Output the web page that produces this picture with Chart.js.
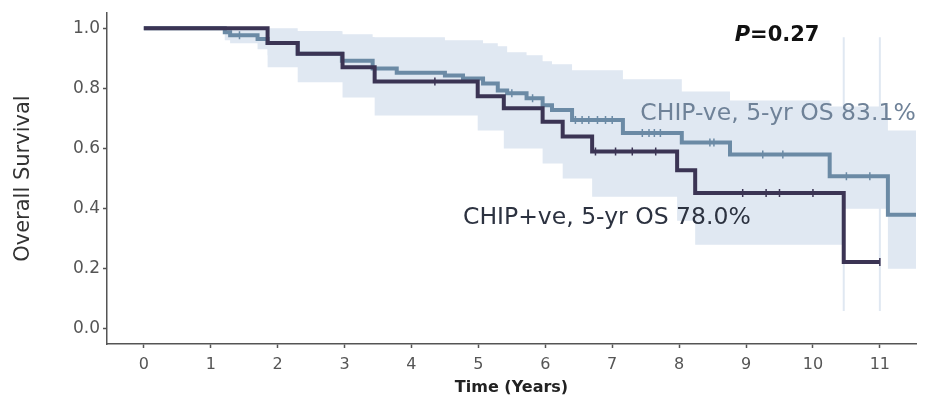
<!DOCTYPE html>
<html>
<head>
<meta charset="utf-8">
<script src="https://cdn.jsdelivr.net/npm/chart.js@4.4.0/dist/chart.umd.min.js"></script>
<style>
  html, body { margin: 0; padding: 0; background: #fff; }
  #wrap { width: 935px; height: 398px; }
</style>
</head>
<body>
<div id="wrap"><canvas id="chart" width="935" height="398"></canvas></div>
<script>
// Kaplan-Meier steps, CHIP+ve (dark)
const posTimes = [0, 1.85, 2.3, 2.97, 3.45, 4.99, 5.38, 5.96, 6.26, 6.7, 7.97, 8.24, 10.46, 11.0]
const posSurv  = [1, 0.951, 0.915, 0.87, 0.823, 0.774, 0.734, 0.689, 0.64, 0.59, 0.528, 0.452, 0.223, 0.223]
// CHIP-ve (steel blue)
const negTimes = [0, 1.21, 1.29, 1.7, 1.85, 2.3, 2.96, 3.42, 3.78, 4.5, 4.77, 5.07, 5.29, 5.43, 5.72, 5.96, 6.1, 6.4, 7.16, 8.04, 8.76, 10.25, 11.12, 11.54]
const negSurv  = [1, 0.987, 0.977, 0.964, 0.951, 0.915, 0.892, 0.866, 0.852, 0.843, 0.833, 0.816, 0.793, 0.784, 0.767, 0.744, 0.728, 0.695, 0.652, 0.62, 0.58, 0.508, 0.38, 0.38]

// censor ticks
const posCensT = [4.35, 6.75, 7.05, 7.3, 7.65, 8.95, 9.3, 9.5, 10.0, 11.0]
const posCensS = [0.823, 0.59, 0.59, 0.59, 0.59, 0.452, 0.452, 0.452, 0.452, 0.223]
const negCensT = [1.43, 5.5, 5.81, 6.45, 6.55, 6.65, 6.78, 6.9, 7.0, 7.45, 7.55, 7.63, 7.72, 8.46, 8.52, 9.25, 9.55, 10.5, 10.85]
const negCensS = [0.977, 0.784, 0.767, 0.695, 0.695, 0.695, 0.695, 0.695, 0.695, 0.652, 0.652, 0.652, 0.652, 0.62, 0.62, 0.58, 0.58, 0.508, 0.508]

// confidence bands
const negUpper = [1, 1, 1, 1, 0.99, 0.99, 0.98, 0.97, 0.97, 0.96, 0.96, 0.95, 0.94, 0.92, 0.91, 0.89, 0.88, 0.86, 0.83, 0.79, 0.76, 0.74, 0.66, 0.66]
const negLower = [1, 0.96, 0.95, 0.93, 0.91, 0.87, 0.84, 0.82, 0.8, 0.79, 0.78, 0.76, 0.73, 0.72, 0.7, 0.67, 0.65, 0.62, 0.57, 0.53, 0.48, 0.4, 0.2, 0.2]
const posUpper = [1, 1, 0.99, 0.97, 0.95, 0.92, 0.89, 0.86, 0.83, 0.79, 0.74, 0.68, 0.223, 0.223]
const posLower = [1, 0.87, 0.82, 0.77, 0.71, 0.66, 0.6, 0.55, 0.5, 0.44, 0.36, 0.28, 0.223, 0.223]
const edgeTimes = [10.46, 10.46, null, 11.0, 11.0]
const edgeVals  = [0.06, 0.97, null, 0.06, 0.97]

const xTicks = [0, 1, 2, 3, 4, 5, 6, 7, 8, 9, 10, 11]
const yTicks = [0, 0.2, 0.4, 0.6, 0.8, 1.0]

const darkCol = '#3b3454'
const blueCol = '#6b8aa5'
const bandCol = '#e0e8f2'
const font = 'DejaVu Sans'

function pts(xs, ys) {
    return xs.map((x, i) => x === null ? { x: NaN, y: null } : { x: x, y: ys[i] })
}

function stepLine(xs, ys, color, order) {
    return { data: pts(xs, ys), showLine: true, stepped: true, borderColor: color, borderWidth: 4, pointRadius: 0, fill: false, order: order }
}

function censors(xs, ys, color, order) {
    return { data: pts(xs, ys), showLine: false, pointStyle: 'line', rotation: 90, pointRadius: 4, borderColor: color, borderWidth: 1.5, order: order }
}

function band(xs, ys, fill) {
    return { data: pts(xs, ys), showLine: true, stepped: true, borderWidth: 0, borderColor: 'rgba(0,0,0,0)', backgroundColor: bandCol, pointRadius: 0, fill: fill, order: 10 }
}

const labelPlugin = {
    id: 'labels',
    afterDatasetsDraw(chart) {
        const ctx = chart.ctx
        const xs = chart.scales.x, ys = chart.scales.y
        ctx.save()
        ctx.textBaseline = 'middle'
        ctx.textAlign = 'left'
        ctx.font = '23.5px "' + font + '"'
        ctx.fillStyle = '#6f8298'
        ctx.fillText('CHIP-ve, 5-yr OS 83.1%', xs.getPixelForValue(7.42), ys.getPixelForValue(0.716))
        ctx.fillStyle = '#2c3240'
        ctx.fillText('CHIP+ve, 5-yr OS 78.0%', xs.getPixelForValue(4.77), ys.getPixelForValue(0.37))
        // P value, P in italic
        let px = xs.getPixelForValue(8.83), py = ys.getPixelForValue(0.975)
        ctx.fillStyle = '#111'
        ctx.font = 'italic bold 21px "' + font + '"'
        ctx.fillText('P', px, py)
        px += ctx.measureText('P').width
        ctx.font = 'bold 21px "' + font + '"'
        ctx.fillText('=0.27', px, py)
        ctx.restore()
    }
}

new Chart(document.getElementById('chart'), {
    type: 'scatter',
    data: {
        datasets: [
            stepLine(posTimes, posSurv, darkCol, 0),
            stepLine(negTimes, negSurv, blueCol, 1),
            censors(posCensT, posCensS, darkCol, 0),
            censors(negCensT, negCensS, blueCol, 1),
            band(negTimes, negLower, false),
            band(negTimes, negUpper, 4),
            band(posTimes, posLower, false),
            band(posTimes, posUpper, 6),
            { data: pts(edgeTimes, edgeVals), showLine: true, spanGaps: false, borderColor: bandCol, borderWidth: 2, pointRadius: 0, order: 9 }
        ]
    },
    options: {
        responsive: false,
        animation: false,
        layout: { padding: { top: 8, right: 19, left: 0, bottom: 0 } },
        plugins: { legend: { display: false }, tooltip: { enabled: false } },
        scales: {
            x: {
                type: 'linear', min: -0.55, max: 11.54,
                afterFit: s => { s.height = 54 },
                afterBuildTicks: s => { s.ticks = xTicks.map(v => ({ value: v })) },
                grid: { drawOnChartArea: false, drawTicks: true, tickLength: 4, color: '#555', tickWidth: 1.5 },
                border: { display: true, color: '#555', width: 1.5 },
                ticks: { color: '#555', font: { family: font, size: 16 }, padding: 7, maxRotation: 0 },
                title: { display: true, text: 'Time (Years)', color: '#222', font: { family: font, size: 16, weight: 'bold' }, padding: { top: 0, bottom: 1 } }
            },
            y: {
                type: 'linear', min: -0.05, max: 1.05,
                afterFit: s => { s.width = 107 },
                afterBuildTicks: s => { s.ticks = yTicks.map(v => ({ value: v })) },
                grid: { drawOnChartArea: false, drawTicks: true, tickLength: 4, color: '#555', tickWidth: 1.5 },
                border: { display: true, color: '#555', width: 1.5 },
                ticks: { color: '#555', font: { family: font, size: 17 }, padding: 3, callback: v => v.toFixed(1) },
                title: { display: true, text: 'Overall Survival', color: '#333', font: { family: font, size: 21 }, padding: { top: 11, bottom: 0 } }
            }
        }
    },
    plugins: [labelPlugin]
})
</script>
</body>
</html>
